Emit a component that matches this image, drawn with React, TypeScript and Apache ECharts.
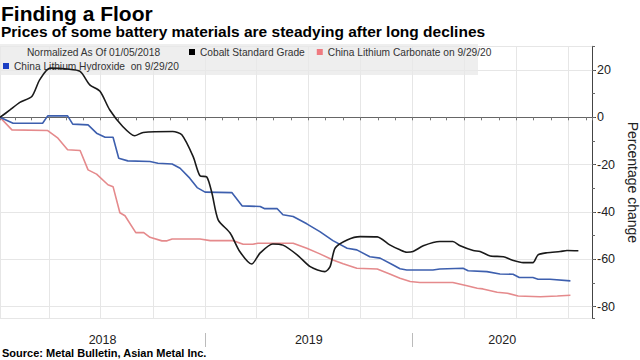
import React, { useEffect, useRef } from "react";
import * as echarts from "echarts";

// ---------- data ----------
const cobaltDates = [
  "2018-01-05", "2018-01-22", "2018-02-09", "2018-03-02", "2018-03-16", "2018-04-03", "2018-05-03",
  "2018-05-26", "2018-06-12", "2018-06-30", "2018-07-17", "2018-08-09", "2018-08-30", "2018-09-14",
  "2018-11-05", "2018-11-21", "2018-12-11", "2018-12-23", "2019-01-04", "2019-01-13", "2019-01-24",
  "2019-02-14", "2019-03-03", "2019-03-24", "2019-04-08", "2019-04-30", "2019-05-18", "2019-06-12",
  "2019-07-05", "2019-07-31", "2019-08-09", "2019-08-18", "2019-09-08", "2019-10-01", "2019-10-31",
  "2019-11-22", "2019-12-10", "2019-12-22", "2020-01-02", "2020-01-20", "2020-02-18", "2020-03-12",
  "2020-03-25", "2020-04-17", "2020-04-29", "2020-05-17", "2020-06-09", "2020-06-24", "2020-07-14",
  "2020-07-31", "2020-08-09", "2020-08-25", "2020-09-17", "2020-09-29", "2020-10-19",
];
const cobaltValues = [
  0, 3, 6.3, 8.8, 15.9, 20.8, 20.4,
  19.4, 13.7, 11, 3.2, -3.9, -7.8, -6.4,
  -6, -7.4, -16.6, -24.7, -25.2, -32, -43.3,
  -48.9, -56.7, -62, -57.3, -53.5, -54, -58.1,
  -63.1, -65.2, -63.1, -55.2, -51.8, -50.4, -50.5,
  -53.9, -56, -57, -56.7, -54.3, -52.5, -52.5,
  -54.3, -56.3, -56.7, -58.6, -58.9, -60.3, -61.4,
  -61.4, -58.1, -57.2, -56.7, -56.3, -56.4,
];

const carbonateDates = [
  "2018-01-05", "2018-01-26", "2018-03-30", "2018-04-17", "2018-05-04", "2018-05-26", "2018-06-09",
  "2018-06-24", "2018-07-14", "2018-07-23", "2018-08-04", "2018-08-13", "2018-09-01", "2018-09-15",
  "2018-09-26", "2018-10-17", "2018-10-26", "2018-11-04", "2018-12-23", "2019-01-10", "2019-02-19",
  "2019-03-09", "2019-03-26", "2019-04-04", "2019-06-05", "2019-06-29", "2019-07-22", "2019-08-14",
  "2019-09-01", "2019-09-25", "2019-10-31", "2019-11-22", "2019-12-10", "2019-12-28", "2020-01-14",
  "2020-03-12", "2020-04-06", "2020-04-24", "2020-05-04", "2020-05-29", "2020-06-16", "2020-07-05",
  "2020-08-13", "2020-09-12", "2020-10-05",
];
const carbonateValues = [
  0, -5.3, -5.6, -8.8, -13.7, -14, -22.2,
  -24, -28.5, -29.3, -40.3, -41.6, -48.7, -48.7,
  -50.7, -52.2, -52.2, -51.4, -51.4, -52.1, -52.1,
  -53.6, -53.6, -53.2, -53.2, -55.3, -57.7, -60.3,
  -61.9, -63.8, -64.1, -66.2, -68, -69.4, -69.8,
  -69.8, -71.2, -72.2, -72.5, -73.9, -74.3, -75.5,
  -75.8, -75.5, -75.2,
];

const hydroxideDates = [
  "2018-01-05", "2018-01-28", "2018-03-21", "2018-03-30", "2018-05-04", "2018-05-13", "2018-06-09",
  "2018-06-24", "2018-07-09", "2018-07-23", "2018-08-02", "2018-08-18", "2018-09-26", "2018-10-10",
  "2018-11-04", "2018-11-18", "2018-12-05", "2018-12-18", "2019-01-01", "2019-02-17", "2019-03-07",
  "2019-04-08", "2019-04-16", "2019-05-08", "2019-05-18", "2019-06-05", "2019-06-29", "2019-07-22",
  "2019-08-14", "2019-09-08", "2019-09-25", "2019-10-18", "2019-11-05", "2019-11-28", "2019-12-10",
  "2019-12-22", "2020-02-06", "2020-02-18", "2020-03-30", "2020-04-08", "2020-05-11", "2020-06-03",
  "2020-06-26", "2020-07-07", "2020-07-31", "2020-08-09", "2020-08-30", "2020-10-05",
];
const hydroxideValues = [
  0, -2.5, -2.5, 0.6, 0.6, -2.9, -3.2,
  -6.7, -8.4, -8.4, -17.3, -18.4, -18.7, -19.4,
  -19.7, -21.5, -25.7, -29.7, -31.6, -31.8, -37.4,
  -37.7, -38.6, -38.6, -41.2, -41.9, -45, -48.3,
  -52.1, -55.3, -56, -58.9, -59.5, -62.4, -64,
  -64.5, -64.5, -64.1, -63.8, -64.8, -65.2, -66.2,
  -66.3, -67.7, -67.7, -68.4, -68.4, -69.1,
];

const seriesNames = [
  "Cobalt Standard Grade",
  "China Lithium Carbonate on 9/29/20",
  "China Lithium Hydroxide  on 9/29/20",
];
const yearLabels = ["2018", "2019", "2020"];
const yTickLabels = [20, 0, -20, -40, -60, -80];

const TITLE = "Finding a Floor";
const SUBTITLE = "Prices of some battery materials are steadying after long declines";
const SOURCE = "Source: Metal Bulletin, Asian Metal Inc.";
const NORMALIZED = "Normalized As Of 01/05/2018";
const Y_NAME = "Percentage change";

const X_MIN = new Date(2018, 0, 5).getTime();
const X_MAX = new Date(2020, 10, 12).getTime();
const Y_MIN = -85;
const Y_MAX = 30;
const DAY = 86400000;

const FONT = "'Liberation Sans', Arial, sans-serif";
const LEG_SIZE = 10.2;

const zip = (d: string[], v: number[]) => d.map((x, i) => [x, v[i]]);

export default function App() {
  const ref = useRef<HTMLDivElement>(null);

  useEffect(() => {
    if (!ref.current) return;
    const chart = echarts.init(ref.current, null, { renderer: "svg" });

    const gridColor = "#e6e6e6";
    const option: any = {
      animation: false,
      backgroundColor: "#ffffff",
      textStyle: { fontFamily: FONT },
      title: [
        { text: TITLE, left: 1, top: 3, padding: 0, textStyle: { fontFamily: FONT, fontSize: 21, fontWeight: "bold", color: "#000" } },
        { text: SUBTITLE, left: 1, top: 23.5, padding: 0, textStyle: { fontFamily: FONT, fontSize: 15.5, fontWeight: "bold", color: "#000" } },
        { text: SOURCE, left: 2, top: 347.5, padding: 0, textStyle: { fontFamily: FONT, fontSize: 11, fontWeight: "bold", color: "#000" } },
      ],
      grid: { left: 0, right: 48, top: 46.3, bottom: 41.5, containLabel: false, outerBoundsMode: "none" },
      legend: [
        {
          data: [seriesNames[0], seriesNames[1]],
          left: 189, top: 47, padding: 0, itemGap: 12, icon: "rect", itemWidth: 6, itemHeight: 6,
          textStyle: { fontFamily: FONT, fontSize: LEG_SIZE, color: "#333" },
          selectedMode: false,
        },
        {
          data: [seriesNames[2]],
          left: 3, top: 61, padding: 0, icon: "rect", itemWidth: 6, itemHeight: 6,
          textStyle: { fontFamily: FONT, fontSize: LEG_SIZE, color: "#333" },
          selectedMode: false,
        },
      ],
      xAxis: [
        {
          type: "time", min: X_MIN, max: X_MAX, minInterval: 28 * DAY, maxInterval: 31 * DAY,
          axisLine: { show: true, lineStyle: { color: "#666", width: 1 } },
          axisTick: { show: true, length: 3, lineStyle: { color: "#777" } },
          axisLabel: { show: false },
          splitLine: { show: false },
        },
        {
          type: "time", min: X_MIN, max: X_MAX, minInterval: 88 * DAY, maxInterval: 93 * DAY,
          axisLine: { show: false }, axisTick: { show: false }, axisLabel: { show: false },
          splitLine: { show: true, lineStyle: { color: gridColor, width: 1 } },
        },
      ],
      yAxis: [
        {
          type: "value", position: "right", min: Y_MIN, max: Y_MAX, minInterval: 20, maxInterval: 20,
          axisLine: { show: true, lineStyle: { color: "#444", width: 1 } },
          axisTick: { show: true, length: 4, lineStyle: { color: "#444" } },
          axisLabel: {
            show: true, margin: 5, fontFamily: FONT, fontSize: 12.5, color: "#222",
            showMinLabel: false, showMaxLabel: false,
            formatter: (v: number) => (yTickLabels.indexOf(v) >= 0 ? String(v) : ""),
          },
          splitLine: { show: true, lineStyle: { color: gridColor, width: 1 } },
          name: Y_NAME, nameLocation: "middle", nameRotate: -90, nameGap: 31,
          nameTextStyle: { fontFamily: FONT, fontSize: 14, color: "#222" },
        },
        {
          type: "value", position: "right", min: Y_MIN, max: Y_MAX, minInterval: 10, maxInterval: 10,
          axisLine: { show: false },
          axisTick: { show: true, length: 3, lineStyle: { color: "#666" } },
          axisLabel: { show: false },
          splitLine: { show: false },
        },
      ],
      series: [
        {
          name: seriesNames[0], type: "line", data: zip(cobaltDates, cobaltValues), showSymbol: false,
          smooth: 0.25, lineStyle: { color: "#1a1a1a", width: 1.6 }, itemStyle: { color: "#000" }, z: 5,
        },
        {
          name: seriesNames[1], type: "line", data: zip(carbonateDates, carbonateValues), showSymbol: false,
          lineStyle: { color: "#e58a8c", width: 1.6 }, itemStyle: { color: "#ef7a80" }, z: 3,
        },
        {
          name: seriesNames[2], type: "line", data: zip(hydroxideDates, hydroxideValues), showSymbol: false,
          lineStyle: { color: "#3d5fae", width: 1.6 }, itemStyle: { color: "#1c3fc4" }, z: 4,
        },
      ],
      graphic: [
        { id: "legendBg", type: "rect", shape: { x: 0, y: 44, width: 478, height: 31 }, style: { fill: "rgba(232,232,232,0.75)" }, z: 1, silent: true },
        { id: "normText", type: "text", x: 27, y: 47, style: { text: NORMALIZED, fontFamily: FONT, fontSize: LEG_SIZE, fill: "#333" }, z: 6 },
      ],
    };
    chart.setOption(option);

    // year labels and separators positioned through the x axis scale
    const px = (t: number) => chart.convertToPixel({ xAxisIndex: 0 }, t) as number;
    const extra: any[] = [];
    yearLabels.forEach((y, i) => {
      const yr = Number(y);
      const s = Math.max(new Date(yr, 0, 1).getTime(), X_MIN);
      const e = Math.min(new Date(yr + 1, 0, 1).getTime(), X_MAX);
      const cx = (px(s) + px(e)) / 2;
      extra.push({
        id: "year" + i, type: "text", x: cx, y: 340,
        style: { text: y, fontFamily: FONT, fontSize: 12.5, fill: "#222", align: "center", verticalAlign: "middle" },
      });
      if (i > 0) {
        const bx = Math.round(px(new Date(yr, 0, 1).getTime())) + 0.5;
        extra.push({
          id: "sep" + i, type: "line", shape: { x1: bx, y1: 333, x2: bx, y2: 347 },
          style: { stroke: "#bbb", lineWidth: 1 },
        });
      }
    });
    chart.setOption({ graphic: extra });

    return () => chart.dispose();
  }, []);

  return (
    <div
      ref={ref}
      style={{ position: "fixed", left: 0, top: 0, width: 640, height: 360 }}
    />
  );
}
